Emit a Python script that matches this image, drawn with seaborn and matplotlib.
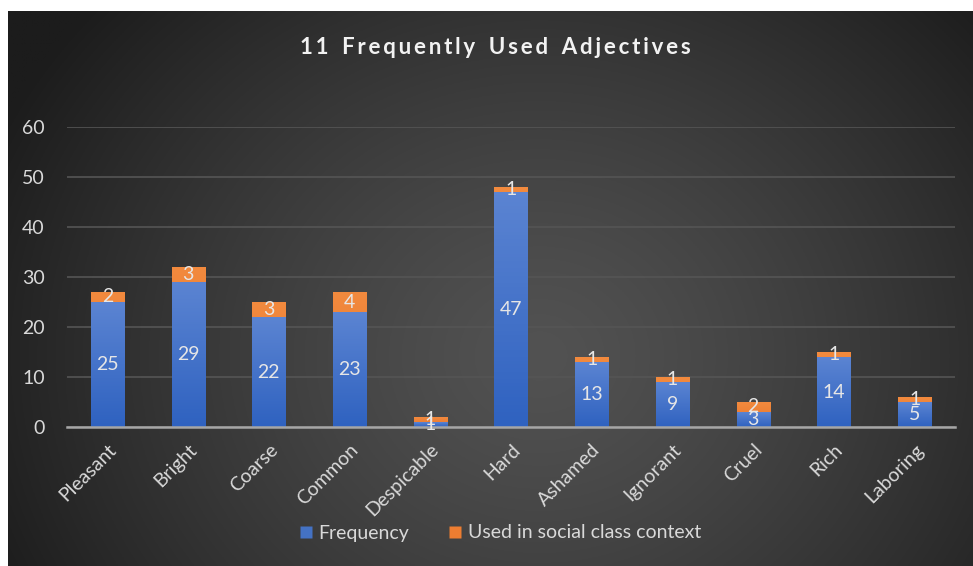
import numpy as np
import matplotlib
matplotlib.use("Agg")
import matplotlib.pyplot as plt
import matplotlib.colors as mcolors
from matplotlib.lines import Line2D
import seaborn as sns

adjectives = ["Pleasant", "Bright", "Coarse", "Common", "Despicable", "Hard",
              "Ashamed", "Ignorant", "Cruel", "Rich", "Laboring"]
frequency = [25, 29, 22, 23, 1, 47, 13, 9, 3, 14, 5]
social_class = [2, 3, 3, 4, 1, 1, 1, 1, 2, 1, 1]
y_ticks = [0, 10, 20, 30, 40, 50, 60]
title = "11 Frequently Used Adjectives"
series_names = ["Frequency", "Used in social class context"]

totals = [f + s for f, s in zip(frequency, social_class)]

sns.set_theme(style="dark")
plt.rcParams['font.family'] = ['Lato', 'DejaVu Sans']

W, H = 973, 566
fig = plt.figure(figsize=(W / 100, H / 100), dpi=100, facecolor="white")

# dark radial gradient background
bg = fig.add_axes([8 / W, 0, 1 - 8 / W, 1 - 11 / H])
bg.axis("off")
ny, nx = 300, 500
yy, xx = np.mgrid[0:ny, 0:nx]
cx, cy = nx * 0.55, ny * 0.62
d = np.sqrt(((xx - cx) / (nx * 0.62)) ** 2 + ((yy - cy) / (ny * 0.95)) ** 2)
d = np.clip(d, 0, 1)
light, dark = 0x52 / 255, 0x1c / 255
g = light + (dark - light) * d ** 1.3
img = np.dstack([g, g, g])
bg.imshow(img, extent=[0, 1, 0, 1], aspect="auto", origin="upper")
bg.set_xlim(0, 1)
bg.set_ylim(0, 1)

ax = fig.add_axes([67 / W, 1 - 427 / H, 888 / W, 300 / H])
ax.patch.set_alpha(0)

orange = "#ED7D31"
blue = "#4472C4"
sns.barplot(x=adjectives, y=totals, color=orange, width=0.41, ax=ax,
            saturation=1, zorder=3, linewidth=0, edgecolor="none")
n_orange = len(ax.patches)
sns.barplot(x=adjectives, y=frequency, color=blue, width=0.41, ax=ax,
            saturation=1, zorder=3, linewidth=0, edgecolor="none")

# gradient fills
def grad_img(top, bottom):
    t = np.array(mcolors.to_rgb(top))
    b = np.array(mcolors.to_rgb(bottom))
    s = np.linspace(0, 1, 64)[:, None]
    return (t * (1 - s) + b * s)[:, None, :]

blue_grad = grad_img("#5b84d2", "#2f62c0")
orange_grad = grad_img("#f28a3e", "#e8742a")
for i, p in enumerate(ax.patches):
    p.set_linewidth(0)
    p.set_edgecolor("none")
    x0, y0 = p.get_x(), p.get_y()
    w, h = p.get_width(), p.get_height()
    if h <= 0:
        continue
    if i < n_orange:
        im = ax.imshow(orange_grad, extent=[x0, x0 + w, y0, y0 + h],
                       aspect="auto", origin="upper", zorder=3.5)
    else:
        im = ax.imshow(blue_grad, extent=[x0, x0 + w, y0, y0 + h],
                       aspect="auto", origin="upper", zorder=4)
    im.set_clip_path(p)

for i, p in enumerate(ax.patches):
    if i >= n_orange:
        p.set_zorder(3.8)

ax.set_xlim(-0.5, len(adjectives) - 0.5)
ax.set_ylim(0, 60)
ax.set_yticks(y_ticks)
ax.set_yticklabels([str(v) for v in y_ticks])
ax.set_xlabel("")
ax.set_ylabel("")
ax.grid(axis="y", color="#555555", linewidth=1.2, zorder=1)
ax.grid(axis="x", visible=False)
for s in ["top", "right", "left"]:
    ax.spines[s].set_visible(False)
ax.spines["bottom"].set_color("#a6a6a6")
ax.spines["bottom"].set_linewidth(1.8)
ax.spines["bottom"].set_zorder(6)
ax.tick_params(axis="both", length=0, colors="#d9d9d9", labelsize=14)
ax.tick_params(axis="y", pad=16)
ax.tick_params(axis="x", pad=10)
for lab in ax.get_xticklabels():
    lab.set_rotation(45)
    lab.set_ha("right")
    lab.set_va("top")
    lab.set_rotation_mode("anchor")

# data labels
label_color = "#e6e6e6"
for i in range(len(adjectives)):
    ax.text(i, frequency[i] / 2, str(frequency[i]), ha="center", va="center",
            color=label_color, fontsize=14, zorder=7)
    ax.text(i, frequency[i] + social_class[i] / 2, str(social_class[i]),
            ha="center", va="center", color=label_color, fontsize=14, zorder=7)

# title with letter spacing
spaced = "\u2009".join(list(title)).replace(" ", "\u2009 ")
fig.text(495 / W, 1 - 48 / H, spaced, ha="center", va="center",
         color="#f2f2f2", fontsize=16, fontweight="bold",
         family=["Lato", "DejaVu Sans"])

handles = [Line2D([0], [0], marker="s", color="none", markerfacecolor=blue,
                  markeredgecolor="none", markersize=9),
           Line2D([0], [0], marker="s", color="none", markerfacecolor=orange,
                  markeredgecolor="none", markersize=9)]
leg = fig.legend(handles, series_names, loc="center", bbox_to_anchor=(500 / W, 1 - 533 / H),
                 ncol=2, frameon=False, fontsize=14, handlelength=0.7,
                 handletextpad=0.3, columnspacing=2.0)
for t in leg.get_texts():
    t.set_color("#d9d9d9")

fig.savefig("out.png", dpi=100, facecolor="white")
